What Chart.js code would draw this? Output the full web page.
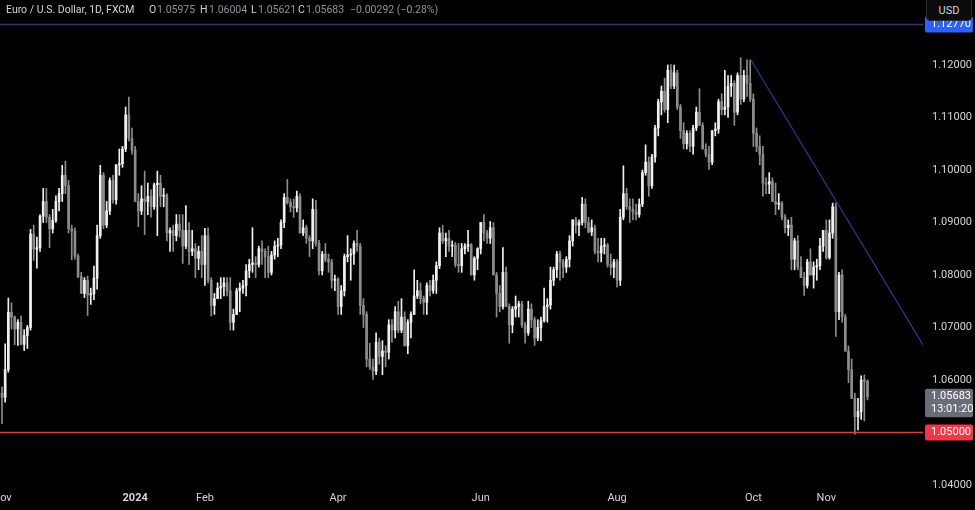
<!DOCTYPE html>
<html>
<head>
<meta charset="utf-8">
<script src="https://cdn.jsdelivr.net/npm/chart.js@4.4.1/dist/chart.umd.min.js"></script>
<style>
  html, body { margin:0; padding:0; background:#000; }
  #wrap { position:relative; width:975px; height:510px; overflow:hidden; background:#000; }
  #hdr span { position:absolute; top:3px; font:10.5px Roboto, sans-serif; color:#d1d4dc; white-space:pre; }
  #hdr .v { color:#8f929b; }
  #usd { position:absolute; left:926px; top:-4px; width:46px; height:25px; box-sizing:border-box;
         border:1px solid #2a2d35; border-radius:4px; background:#0b0b0d; color:#d1d4dc;
         font:11px Roboto, sans-serif; line-height:27px; text-align:center; }
</style>
</head>
<body>
<div id="wrap">
  <canvas id="chart" width="975" height="510"></canvas>
  <div id="hdr">
    <span style="left:6px">Euro / U.S. Dollar, 1D, FXCM</span>
    <span style="left:149px">O</span><span class="v" style="left:157px">1.05975</span>
    <span style="left:200px">H</span><span class="v" style="left:209px">1.06004</span>
    <span style="left:251px">L</span><span class="v" style="left:258px">1.05621</span>
    <span style="left:298px">C</span><span class="v" style="left:306px">1.05683</span>
    <span class="v" style="left:350px">−0.00292 (−0.28%)</span>
  </div>
  <div id="usd">USD</div>
</div>
<script>
// ---------- data: EUR/USD daily, FXCM ----------
const dates = [
  // 2023-11
  '2023-11-01','2023-11-02','2023-11-03','2023-11-06','2023-11-07','2023-11-08','2023-11-09','2023-11-10','2023-11-13','2023-11-14','2023-11-15',
  '2023-11-16','2023-11-17','2023-11-20','2023-11-21','2023-11-22','2023-11-23','2023-11-24','2023-11-27','2023-11-28','2023-11-29','2023-11-30',
  // 2023-12
  '2023-12-01','2023-12-04','2023-12-05','2023-12-06','2023-12-07','2023-12-08','2023-12-11','2023-12-12','2023-12-13','2023-12-14',
  '2023-12-15','2023-12-18','2023-12-19','2023-12-20','2023-12-21','2023-12-22','2023-12-26','2023-12-27','2023-12-28','2023-12-29',
  // 2024-01
  '2024-01-02','2024-01-03','2024-01-04','2024-01-05','2024-01-08','2024-01-09','2024-01-10','2024-01-11','2024-01-12','2024-01-15','2024-01-16',
  '2024-01-17','2024-01-18','2024-01-19','2024-01-22','2024-01-23','2024-01-24','2024-01-25','2024-01-26','2024-01-29','2024-01-30','2024-01-31',
  // 2024-02
  '2024-02-01','2024-02-02','2024-02-05','2024-02-06','2024-02-07','2024-02-08','2024-02-09','2024-02-12','2024-02-13','2024-02-14','2024-02-15',
  '2024-02-16','2024-02-19','2024-02-20','2024-02-21','2024-02-22','2024-02-23','2024-02-26','2024-02-27','2024-02-28','2024-02-29',
  // 2024-03
  '2024-03-01','2024-03-04','2024-03-05','2024-03-06','2024-03-07','2024-03-08','2024-03-11','2024-03-12','2024-03-13','2024-03-14','2024-03-15',
  '2024-03-18','2024-03-19','2024-03-20','2024-03-21','2024-03-22','2024-03-25','2024-03-26','2024-03-27','2024-03-28','2024-03-29',
  // 2024-04
  '2024-04-01','2024-04-02','2024-04-03','2024-04-04','2024-04-05','2024-04-08','2024-04-09','2024-04-10','2024-04-11','2024-04-12','2024-04-15',
  '2024-04-16','2024-04-17','2024-04-18','2024-04-19','2024-04-22','2024-04-23','2024-04-24','2024-04-25','2024-04-26','2024-04-29','2024-04-30',
  // 2024-05
  '2024-05-01','2024-05-02','2024-05-03','2024-05-06','2024-05-07','2024-05-08','2024-05-09','2024-05-10','2024-05-13','2024-05-14','2024-05-15','2024-05-16',
  '2024-05-17','2024-05-20','2024-05-21','2024-05-22','2024-05-23','2024-05-24','2024-05-27','2024-05-28','2024-05-29','2024-05-30','2024-05-31',
  // 2024-06
  '2024-06-03','2024-06-04','2024-06-05','2024-06-06','2024-06-07','2024-06-10','2024-06-11','2024-06-12','2024-06-13','2024-06-14',
  '2024-06-17','2024-06-18','2024-06-19','2024-06-20','2024-06-21','2024-06-24','2024-06-25','2024-06-26','2024-06-27','2024-06-28',
  // 2024-07
  '2024-07-01','2024-07-02','2024-07-03','2024-07-04','2024-07-05','2024-07-08','2024-07-09','2024-07-10','2024-07-11','2024-07-12','2024-07-15','2024-07-16',
  '2024-07-17','2024-07-18','2024-07-19','2024-07-22','2024-07-23','2024-07-24','2024-07-25','2024-07-26','2024-07-29','2024-07-30','2024-07-31',
  // 2024-08
  '2024-08-01','2024-08-02','2024-08-05','2024-08-06','2024-08-07','2024-08-08','2024-08-09','2024-08-12','2024-08-13','2024-08-14','2024-08-15',
  '2024-08-16','2024-08-19','2024-08-20','2024-08-21','2024-08-22','2024-08-23','2024-08-26','2024-08-27','2024-08-28','2024-08-29','2024-08-30',
  // 2024-09
  '2024-09-02','2024-09-03','2024-09-04','2024-09-05','2024-09-06','2024-09-09','2024-09-10','2024-09-11','2024-09-12','2024-09-13','2024-09-16',
  '2024-09-17','2024-09-18','2024-09-19','2024-09-20','2024-09-23','2024-09-24','2024-09-25','2024-09-26','2024-09-27','2024-09-30',
  // 2024-10
  '2024-10-01','2024-10-02','2024-10-03','2024-10-04','2024-10-07','2024-10-08','2024-10-09','2024-10-10','2024-10-11','2024-10-14','2024-10-15','2024-10-16',
  '2024-10-17','2024-10-18','2024-10-21','2024-10-22','2024-10-23','2024-10-24','2024-10-25','2024-10-28','2024-10-29','2024-10-30','2024-10-31',
  // 2024-11
  '2024-11-01','2024-11-04','2024-11-05','2024-11-06','2024-11-07','2024-11-08','2024-11-11','2024-11-12','2024-11-13','2024-11-14','2024-11-15',
  '2024-11-18','2024-11-19','2024-11-20'
];

const open = [
  1.0575,1.0567,1.0620,1.0729,1.0720,1.0697,1.0710,1.0668,1.0685,1.0700,1.0878,1.0849,1.0852,1.0912,1.0940,1.0910,1.0888,1.0904,1.0940,1.0955,1.0990,1.0970,
  1.0888,1.0884,1.0836,1.0797,1.0765,1.0790,1.0762,1.0764,1.0794,1.0875,1.0990,1.0895,1.0922,1.0980,1.0943,1.1010,1.1012,1.1040,1.1105,1.1060,
  1.1038,1.0940,1.0922,1.0945,1.0940,1.0950,1.0930,1.0972,1.0975,1.0950,1.0952,1.0880,1.0885,1.0875,1.0897,1.0885,1.0855,1.0885,1.0845,1.0850,1.0832,1.0845,
  1.0820,1.0875,1.0790,1.0742,1.0755,1.0775,1.0778,1.0785,1.0770,1.0710,1.0725,1.0770,1.0775,1.0780,1.0808,1.0820,1.0823,1.0820,1.0850,1.0845,1.0835,
  1.0805,1.0838,1.0855,1.0857,1.0900,1.0948,1.0938,1.0930,1.0928,1.0950,1.0880,1.0890,1.0870,1.0865,1.0925,1.0860,1.0808,1.0840,1.0830,1.0825,1.0790,
  1.0792,1.0740,1.0770,1.0835,1.0838,1.0840,1.0860,1.0855,1.0742,1.0725,1.0640,1.0625,1.0617,1.0672,1.0645,1.0655,1.0653,1.0705,1.0695,1.0730,1.0695,1.0720,
  1.0665,1.0710,1.0725,1.0760,1.0770,1.0755,1.0748,1.0780,1.0770,1.0790,1.0818,1.0880,1.0865,1.0870,1.0855,1.0857,1.0820,1.0818,1.0850,1.0855,1.0858,1.0800,1.0832,
  1.0850,1.0900,1.0880,1.0870,1.0890,1.0800,1.0765,1.0740,1.0805,1.0740,1.0705,1.0735,1.0740,1.0745,1.0705,1.0690,1.0735,1.0715,1.0680,1.0700,
  1.0713,1.0740,1.0743,1.0790,1.0810,1.0840,1.0825,1.0815,1.0830,1.0865,1.0905,1.0895,1.0900,1.0935,1.0900,1.0882,1.0890,1.0845,1.0842,1.0855,1.0857,1.0820,1.0815,
  1.0825,1.0790,1.0910,1.0955,1.0930,1.0925,1.0920,1.0915,1.0935,1.0995,1.1015,1.0970,1.1025,1.1080,1.1130,1.1150,1.1115,1.1190,1.1160,1.1185,1.1120,1.1075,
  1.1050,1.1070,1.1045,1.1080,1.1110,1.1085,1.1040,1.1030,1.1015,1.1075,1.1078,1.1130,1.1115,1.1120,1.1160,1.1165,1.1110,1.1180,1.1135,1.1180,1.1165,
  1.1135,1.1070,1.1045,1.1030,1.0975,1.0973,1.0978,1.0940,1.0935,1.0937,1.0910,1.0890,1.0895,1.0830,1.0865,1.0815,1.0795,1.0780,1.0825,1.0800,1.0815,1.0818,1.0855,
  1.0885,1.0833,1.0880,1.0930,1.0730,1.0800,1.0720,1.0655,1.0620,1.0565,1.0530,1.0540,1.0600,1.05975
];

const high = [
  1.0587,1.0669,1.0756,1.0747,1.0722,1.0715,1.0722,1.0696,1.0704,1.0887,1.0895,1.0872,1.0915,1.0965,1.0965,1.0915,1.0925,1.0951,1.0965,1.1009,1.1017,1.0980,
  1.0895,1.0890,1.0840,1.0805,1.0795,1.0798,1.0775,1.0817,1.0895,1.1009,1.0995,1.0940,1.0985,1.0990,1.1010,1.1040,1.1045,1.1120,1.1139,1.1080,
  1.1045,1.0955,1.0970,1.0998,1.0975,1.0962,1.0975,1.0998,1.0990,1.0965,1.0955,1.0890,1.0895,1.0915,1.0915,1.0915,1.0932,1.0900,1.0885,1.0860,1.0855,1.0875,
  1.0889,1.0890,1.0795,1.0765,1.0785,1.0795,1.0795,1.0795,1.0795,1.0735,1.0775,1.0785,1.0790,1.0820,1.0830,1.0890,1.0835,1.0855,1.0865,1.0850,1.0855,
  1.0845,1.0865,1.0870,1.0905,1.0955,1.0982,1.0945,1.0945,1.0960,1.0955,1.0905,1.0895,1.0875,1.0945,1.0942,1.0866,1.0845,1.0860,1.0840,1.0830,1.0800,
  1.0795,1.0780,1.0840,1.0875,1.0850,1.0865,1.0885,1.0860,1.0755,1.0730,1.0670,1.0640,1.0690,1.0680,1.0675,1.0665,1.0715,1.0715,1.0740,1.0750,1.0755,1.0730,
  1.0715,1.0730,1.0810,1.0790,1.0785,1.0760,1.0785,1.0790,1.0800,1.0825,1.0890,1.0895,1.0880,1.0885,1.0865,1.0862,1.0860,1.0860,1.0860,1.0885,1.0860,1.0835,1.0852,
  1.0900,1.0915,1.0885,1.0902,1.0900,1.0805,1.0780,1.0852,1.0815,1.0745,1.0740,1.0760,1.0750,1.0750,1.0710,1.0750,1.0745,1.0720,1.0715,1.0720,
  1.0775,1.0755,1.0815,1.0815,1.0845,1.0845,1.0830,1.0835,1.0875,1.0905,1.0910,1.0905,1.0948,1.0945,1.0910,1.0905,1.0895,1.0870,1.0870,1.0870,1.0860,1.0840,1.0830,
  1.0830,1.0925,1.1008,1.0965,1.0945,1.0945,1.0935,1.0945,1.1000,1.1048,1.1025,1.1030,1.1085,1.1135,1.1160,1.1175,1.1200,1.1201,1.1200,1.1190,1.1125,1.1090,
  1.1075,1.1075,1.1085,1.1120,1.1155,1.1090,1.1050,1.1045,1.1075,1.1090,1.1135,1.1145,1.1190,1.1180,1.1180,1.1170,1.1185,1.1214,1.1190,1.1210,1.1209,
  1.1145,1.1080,1.1065,1.1045,1.0985,1.0995,1.0985,1.0975,1.0955,1.0940,1.0915,1.0905,1.0910,1.0870,1.0875,1.0835,1.0805,1.0830,1.0850,1.0825,1.0830,1.0870,1.0885,
  1.0905,1.0905,1.0937,1.0937,1.0805,1.0810,1.0725,1.0665,1.0640,1.0575,1.0565,1.0608,1.0610,1.06004
];

const low = [
  1.0517,1.0558,1.0615,1.0697,1.0667,1.0666,1.0667,1.0656,1.0660,1.0695,1.0828,1.0813,1.0845,1.0900,1.0900,1.0852,1.0880,1.0900,1.0922,1.0940,1.0955,1.0880,
  1.0829,1.0830,1.0795,1.0765,1.0757,1.0723,1.0744,1.0753,1.0773,1.0870,1.0888,1.0890,1.0915,1.0937,1.0935,1.0990,1.1005,1.1035,1.1055,1.1030,
  1.0940,1.0892,1.0915,1.0877,1.0915,1.0910,1.0925,1.0875,1.0930,1.0930,1.0865,1.0845,1.0845,1.0865,1.0872,1.0822,1.0850,1.0820,1.0837,1.0795,1.0810,1.0795,
  1.0780,1.0785,1.0722,1.0725,1.0755,1.0755,1.0760,1.0760,1.0695,1.0695,1.0725,1.0730,1.0765,1.0760,1.0795,1.0805,1.0795,1.0815,1.0820,1.0795,1.0795,
  1.0800,1.0830,1.0835,1.0850,1.0890,1.0935,1.0920,1.0910,1.0920,1.0880,1.0875,1.0860,1.0835,1.0850,1.0855,1.0800,1.0800,1.0825,1.0805,1.0775,1.0770,
  1.0725,1.0725,1.0760,1.0825,1.0790,1.0820,1.0845,1.0725,1.0700,1.0625,1.0620,1.0601,1.0610,1.0630,1.0610,1.0625,1.0640,1.0672,1.0680,1.0690,1.0690,1.0665,
  1.0650,1.0680,1.0725,1.0755,1.0745,1.0725,1.0725,1.0760,1.0765,1.0765,1.0812,1.0860,1.0835,1.0845,1.0835,1.0815,1.0805,1.0805,1.0840,1.0845,1.0800,1.0790,1.0810,
  1.0840,1.0865,1.0860,1.0860,1.0800,1.0720,1.0730,1.0735,1.0740,1.0670,1.0690,1.0720,1.0720,1.0700,1.0670,1.0685,1.0700,1.0666,1.0675,1.0675,
  1.0710,1.0710,1.0735,1.0780,1.0795,1.0790,1.0795,1.0805,1.0815,1.0855,1.0880,1.0875,1.0895,1.0890,1.0880,1.0875,1.0840,1.0825,1.0825,1.0840,1.0815,1.0800,1.0795,
  1.0777,1.0780,1.0905,1.0925,1.0900,1.0905,1.0905,1.0910,1.0930,1.0990,1.0950,1.0965,1.1015,1.1065,1.1105,1.1110,1.1090,1.1155,1.1155,1.1115,1.1060,1.1040,
  1.1040,1.1035,1.1030,1.1075,1.1085,1.1040,1.1025,1.1001,1.1010,1.1065,1.1070,1.1105,1.1105,1.1100,1.1140,1.1085,1.1105,1.1125,1.1130,1.1140,1.1130,
  1.1045,1.1035,1.1010,1.0950,1.0955,1.0955,1.0940,1.0915,1.0925,1.0905,1.0880,1.0875,1.0810,1.0810,1.0810,1.0795,1.0761,1.0775,1.0800,1.0775,1.0790,1.0810,1.0845,
  1.0830,1.0830,1.0870,1.0683,1.0715,1.0710,1.0655,1.0595,1.0565,1.0497,1.0505,1.0525,1.0522,1.05621
];

const close = [
  1.0567,1.0620,1.0729,1.0720,1.0697,1.0710,1.0668,1.0685,1.0700,1.0878,1.0849,1.0852,1.0912,1.0940,1.0910,1.0888,1.0904,1.0940,1.0955,1.0990,1.0970,1.0888,
  1.0884,1.0836,1.0797,1.0765,1.0790,1.0762,1.0764,1.0794,1.0875,1.0990,1.0895,1.0922,1.0980,1.0943,1.1010,1.1012,1.1040,1.1105,1.1060,1.1038,
  1.0940,1.0922,1.0945,1.0940,1.0950,1.0930,1.0972,1.0975,1.0950,1.0952,1.0880,1.0885,1.0875,1.0897,1.0885,1.0855,1.0885,1.0845,1.0850,1.0832,1.0845,1.0820,
  1.0875,1.0790,1.0742,1.0755,1.0775,1.0778,1.0785,1.0770,1.0710,1.0725,1.0770,1.0775,1.0780,1.0808,1.0820,1.0823,1.0820,1.0850,1.0845,1.0835,1.0805,
  1.0838,1.0855,1.0857,1.0900,1.0948,1.0938,1.0930,1.0928,1.0950,1.0880,1.0890,1.0870,1.0865,1.0925,1.0860,1.0808,1.0840,1.0830,1.0825,1.0790,1.0792,
  1.0740,1.0770,1.0835,1.0838,1.0840,1.0860,1.0855,1.0742,1.0725,1.0640,1.0625,1.0617,1.0672,1.0645,1.0655,1.0653,1.0705,1.0695,1.0730,1.0695,1.0720,1.0665,
  1.0710,1.0725,1.0760,1.0770,1.0755,1.0748,1.0780,1.0770,1.0790,1.0818,1.0880,1.0865,1.0870,1.0855,1.0857,1.0820,1.0818,1.0850,1.0855,1.0858,1.0800,1.0832,1.0850,
  1.0900,1.0880,1.0870,1.0890,1.0800,1.0765,1.0740,1.0805,1.0740,1.0705,1.0735,1.0740,1.0745,1.0705,1.0690,1.0735,1.0715,1.0680,1.0700,1.0713,
  1.0740,1.0743,1.0790,1.0810,1.0840,1.0825,1.0815,1.0830,1.0865,1.0905,1.0895,1.0900,1.0935,1.0900,1.0882,1.0890,1.0845,1.0842,1.0855,1.0857,1.0820,1.0815,1.0825,
  1.0790,1.0910,1.0955,1.0930,1.0925,1.0920,1.0915,1.0935,1.0995,1.1015,1.0970,1.1025,1.1080,1.1130,1.1150,1.1115,1.1190,1.1160,1.1185,1.1120,1.1075,1.1050,
  1.1070,1.1045,1.1080,1.1110,1.1085,1.1040,1.1030,1.1015,1.1075,1.1078,1.1130,1.1115,1.1120,1.1160,1.1165,1.1110,1.1180,1.1135,1.1180,1.1165,1.1135,
  1.1070,1.1045,1.1030,1.0975,1.0973,1.0978,1.0940,1.0935,1.0937,1.0910,1.0890,1.0895,1.0830,1.0865,1.0815,1.0795,1.0780,1.0825,1.0800,1.0815,1.0818,1.0855,1.0885,
  1.0833,1.0880,1.0930,1.0730,1.0800,1.0720,1.0655,1.0620,1.0565,1.0530,1.0540,1.0600,1.05975,1.05683
];

// time axis labels (first session of each labelled month)
const xTickDates = ['2023-11-01','2024-01-02','2024-02-01','2024-04-01','2024-06-03','2024-08-01','2024-10-01','2024-11-01'];
const xTickText  = ['Nov','2024','Feb','Apr','Jun','Aug','Oct','Nov'];
const yTickValues = [1.04, 1.05, 1.06, 1.07, 1.08, 1.09, 1.10, 1.11, 1.12];

// drawings on the chart
const levelPrices = [1.12770, 1.05000];          // horizontal lines
const trendDates  = ['2024-09-30', null];        // null = right edge of the pane
const trendPrices = [1.1212, 1.0667];
const countdown = '13:01:20';

// ---------- layout ----------
const X_MIN = -0.63, X_MAX = 290.5;
const Y_MIN = 1.03943, Y_MAX = 1.13238;
const UP = '#f0f0f0', DOWN = '#8c8c8c';

const idx = d => d === null ? X_MAX : dates.indexOf(d);
const colors = close.map((c, i) => c >= open[i] ? UP : DOWN);

const wicks  = dates.map((d, i) => ({ x: i, y: [low[i], high[i]] }));
const bodies = dates.map((d, i) => ({ x: i, y: [open[i], close[i]] }));
const levelLine = p => [{ x: X_MIN, y: p }, { x: X_MAX, y: p }];
const trend = trendDates.map((d, i) => ({ x: idx(d), y: trendPrices[i] }));

// price tags on the right scale
const tags = {
  id: 'tags',
  afterDraw(chart){
    const { ctx, chartArea, scales } = chart;
    ctx.save();
    // the pane ends above the time axis, cut the price scale there too
    ctx.fillStyle = '#000';
    ctx.fillRect(chartArea.right, chartArea.bottom, chart.width - chartArea.right, chart.height - chartArea.bottom);

    function tag(price, bg, lines){
      const py = scales.y.getPixelForValue(price);
      const x0 = chartArea.right + 2, w = 48, lh = 12.5;
      const h = 16 + (lines.length - 1) * lh;
      ctx.fillStyle = bg;
      ctx.beginPath();
      ctx.roundRect(x0, py - 8, w, h, 2);
      ctx.fill();
      ctx.fillStyle = '#ffffff';
      ctx.font = '11px Roboto, sans-serif';
      ctx.textBaseline = 'middle';
      ctx.textAlign = 'left';
      lines.forEach((t, k) => ctx.fillText(t, x0 + 6, py + k * lh));
    }
    tag(levelPrices[0], '#2962ff', [levelPrices[0].toFixed(5)]);
    tag(levelPrices[1], '#f23645', [levelPrices[1].toFixed(5)]);
    const last = close[close.length - 1];
    tag(last, '#6a6d77', [last.toFixed(5), countdown]);
    ctx.restore();
  }
};

new Chart(document.getElementById('chart'), {
  type: 'bar',
  data: {
    datasets: [
      { type:'line', data: trend, borderColor:'#2b3b8e', borderWidth:1.2, pointRadius:0, order:0 },
      { type:'line', data: levelLine(levelPrices[0]), borderColor:'#33376a', borderWidth:1.5, pointRadius:0, order:0 },
      { type:'line', data: levelLine(levelPrices[1]), borderColor:'#d8404b', borderWidth:1.5, pointRadius:0, order:0 },
      { data: bodies, backgroundColor: colors, barThickness: 2, minBarLength: 1, grouped:false, order:1 },
      { data: wicks,  backgroundColor: colors, barThickness: 1, grouped:false, order:2 }
    ]
  },
  options: {
    responsive: false,
    animation: false,
    devicePixelRatio: 1,
    layout: { padding: 0 },
    plugins: { legend: { display:false }, tooltip: { enabled:false } },
    scales: {
      x: {
        type: 'linear',
        min: X_MIN, max: X_MAX,
        offset: false,
        grid: { display:false, drawTicks:false },
        border: { display:false },
        afterBuildTicks: s => { s.ticks = xTickDates.map(d => ({ value: dates.indexOf(d) })); },
        afterFit: s => { s.height = 22; s.paddingLeft = 0; s.paddingRight = 0; },
        ticks: {
          autoSkip: false, maxRotation: 0, padding: 4,
          color: '#d1d4dc',
          font: ctx => ({ family:'Roboto, sans-serif', size: 11, weight: ctx.index === 1 ? 'bold' : 'normal' }),
          callback: (v, i) => xTickText[i]
        }
      },
      y: {
        position: 'right',
        min: Y_MIN, max: Y_MAX,
        grid: { display:false, drawTicks:false },
        border: { display:false },
        afterBuildTicks: s => { s.ticks = yTickValues.map(v => ({ value: v })); },
        afterFit: s => { s.width = 52; s.paddingTop = 0; s.paddingBottom = 0; },
        ticks: {
          padding: 9,
          color: '#d1d4dc',
          font: { family:'Roboto, sans-serif', size: 11 },
          callback: v => Number(v).toFixed(5)
        }
      }
    }
  },
  plugins: [tags]
});
</script>
</body>
</html>
